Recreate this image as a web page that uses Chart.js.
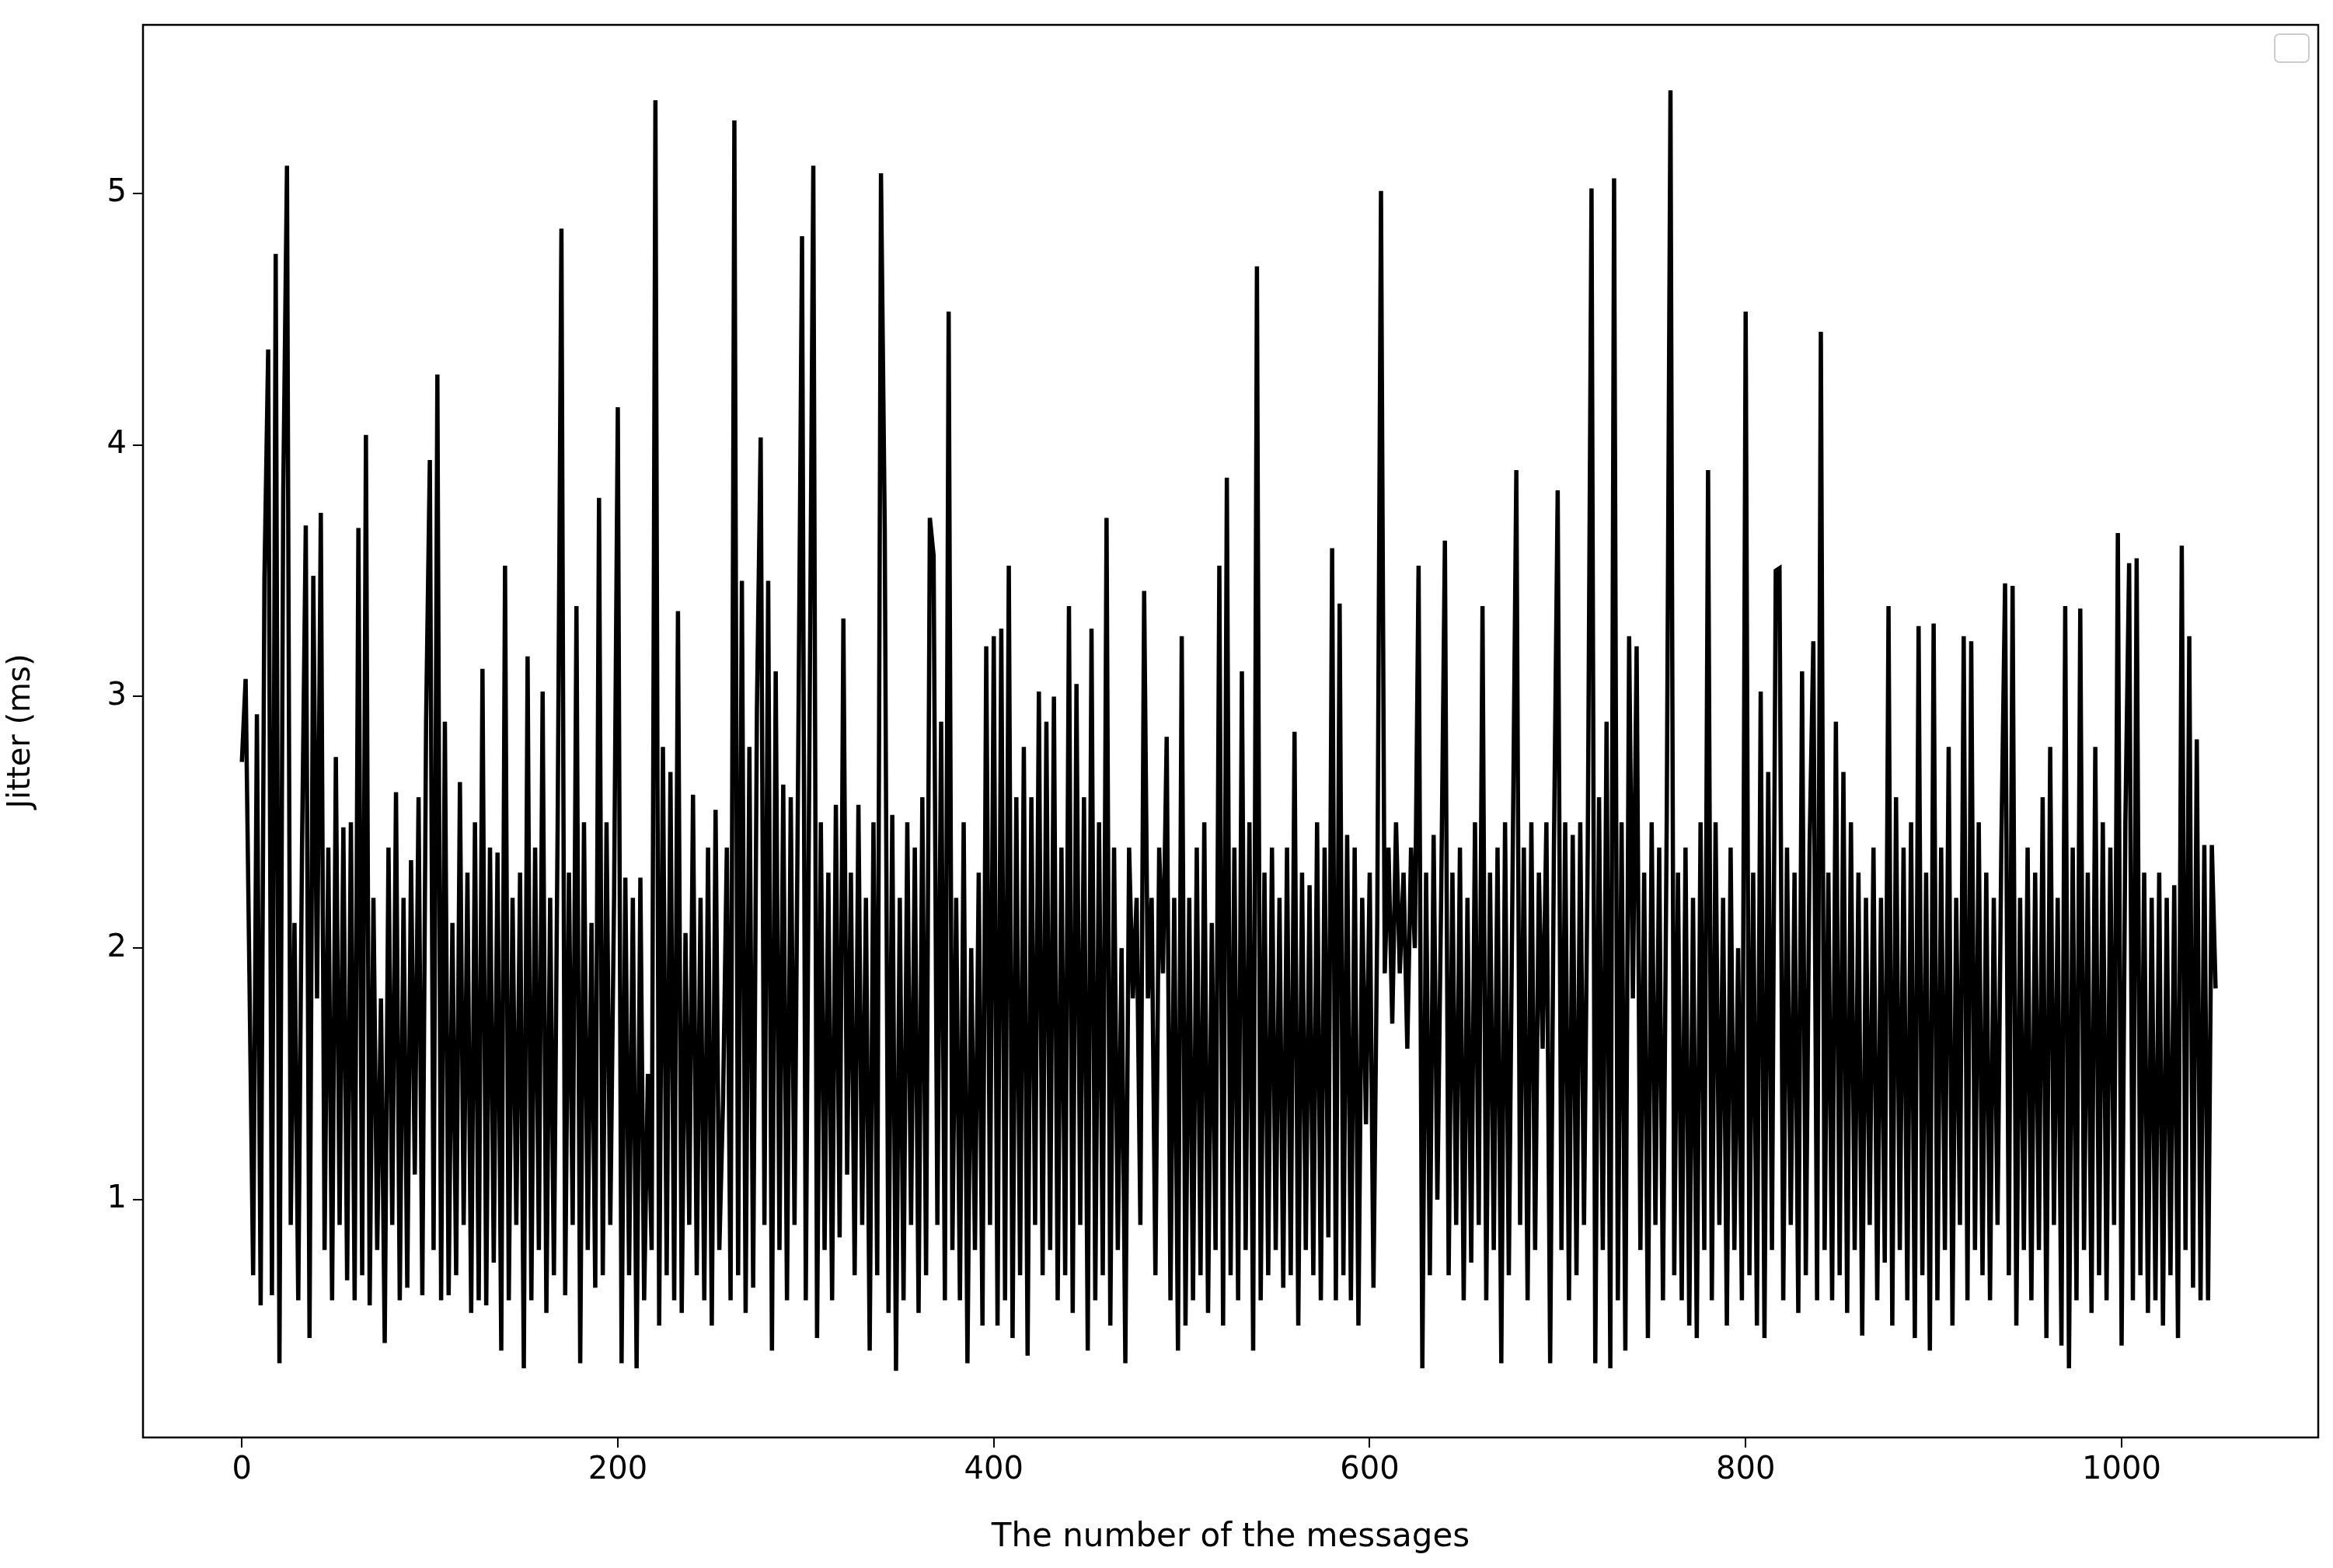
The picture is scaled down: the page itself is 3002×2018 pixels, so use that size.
<!DOCTYPE html>
<html><head><meta charset="utf-8">
<script src="https://cdn.jsdelivr.net/npm/chart.js@4"></script>
<style>html,body{margin:0;padding:0;background:#fff}canvas{display:block}</style>
</head><body>
<div style="width:3002px;height:2018px"><canvas id="c" width="3002" height="2018"></canvas></div>
<script>
const xStart = 0, xStep = 2;
const jitter = [
2.74,3.07,1.9,0.7,2.93,0.58,3.47,4.38,0.62,4.76,0.35,3.8,5.11,0.9,2.1,0.6,2.4,3.68,0.45,3.48,1.8,3.73,0.8,2.4,0.6,
2.76,0.9,2.48,0.68,2.5,0.6,3.67,0.7,4.04,0.58,2.2,0.8,1.8,0.43,2.4,0.9,2.62,0.6,2.2,0.65,2.35,1.1,2.6,0.62,2.9,
3.94,0.8,4.28,0.6,2.9,0.62,2.1,0.7,2.66,0.9,2.3,0.55,2.5,0.6,3.11,0.58,2.4,0.75,2.38,0.4,3.52,0.6,2.2,0.9,2.3,
0.33,3.16,0.6,2.4,0.8,3.02,0.55,2.2,0.7,2.5,4.86,0.62,2.3,0.9,3.36,0.35,2.5,0.8,2.1,0.65,3.79,0.7,2.5,0.9,2.2,
4.15,0.35,2.28,0.7,2.2,0.33,2.28,0.6,1.5,0.8,5.37,0.5,2.8,0.7,2.7,0.6,3.34,0.55,2.06,0.9,2.61,0.7,2.2,0.6,2.4,
0.5,2.55,0.8,1.4,2.4,0.6,5.29,0.7,3.46,0.55,2.8,0.65,2.95,4.03,0.9,3.46,0.4,3.1,0.8,2.65,0.6,2.6,0.9,2.8,4.83,
0.6,2.9,5.11,0.45,2.5,0.8,2.3,0.6,2.57,0.85,3.31,1.1,2.3,0.7,2.57,0.9,2.2,0.4,2.5,0.7,5.08,3.67,0.55,2.53,0.32,
2.2,0.6,2.5,0.9,2.4,0.55,2.6,0.7,3.71,3.56,0.9,2.9,0.6,4.53,0.8,2.2,0.6,2.5,0.35,2.0,0.8,2.3,0.5,3.2,0.9,
3.24,0.5,3.27,0.6,3.52,0.45,2.6,0.7,2.8,0.38,2.6,0.9,3.02,0.7,2.9,0.8,3.0,0.6,2.4,0.7,3.36,0.55,3.05,0.9,2.6,
0.4,3.27,0.6,2.5,0.7,3.71,0.5,2.4,0.8,2.0,0.35,2.4,1.8,2.2,0.9,3.42,1.8,2.2,0.7,2.4,1.9,2.84,0.6,2.2,0.4,
3.24,0.5,2.2,0.6,2.4,0.7,2.5,0.55,2.1,0.8,3.52,0.5,3.87,0.7,2.4,0.6,3.1,0.8,2.5,0.4,4.71,0.6,2.3,0.7,2.4,
0.8,2.2,0.65,2.4,0.7,2.86,0.5,2.3,0.8,2.25,0.7,2.5,0.6,2.4,0.85,3.59,0.6,3.37,0.7,2.45,0.6,2.4,0.5,2.2,1.3,
2.3,0.65,2.1,5.01,1.9,2.4,1.7,2.5,1.9,2.3,1.6,2.4,2.0,3.52,0.33,2.3,0.7,2.45,1.0,2.2,3.62,0.7,2.3,0.9,2.4,
0.6,2.2,0.75,2.5,0.9,3.36,0.6,2.3,0.8,2.4,0.35,2.5,0.7,2.3,3.90,0.9,2.4,0.6,2.5,0.8,2.3,1.6,2.5,0.35,2.4,
3.82,0.8,2.5,0.6,2.45,0.7,2.5,0.9,2.4,5.02,0.35,2.6,0.8,2.9,0.33,5.06,0.6,2.5,0.4,3.24,1.8,3.2,0.8,2.3,0.45,
2.5,0.9,2.4,0.6,2.5,5.41,0.7,2.3,0.6,2.4,0.5,2.2,0.45,2.5,0.8,3.90,0.6,2.5,0.9,2.2,0.5,2.4,0.8,2.0,0.6,
4.53,0.7,2.3,0.5,3.02,0.45,2.7,0.8,3.5,3.51,0.6,2.4,0.9,2.3,0.55,3.1,0.7,2.4,3.22,0.6,4.45,0.8,2.3,0.6,2.9,
0.7,2.7,0.55,2.5,0.8,2.3,0.46,2.2,0.9,2.4,0.6,2.2,0.75,3.36,0.5,2.6,0.8,2.4,0.6,2.5,0.45,3.28,0.7,2.3,0.4,
3.29,0.6,2.4,0.8,2.8,0.5,2.2,0.9,3.24,0.6,3.22,0.8,2.5,0.7,2.3,0.6,2.2,0.9,2.4,3.45,0.7,3.44,0.5,2.2,0.8,
2.4,0.6,2.3,0.8,2.6,0.45,2.8,0.9,2.2,0.42,3.36,0.33,2.4,0.6,3.35,0.8,2.3,0.55,2.8,0.7,2.5,0.6,2.4,0.9,3.65,
0.42,2.5,3.53,0.6,3.55,0.7,2.3,0.55,2.2,0.6,2.3,0.5,2.2,0.7,2.25,0.45,3.6,0.8,3.24,0.65,2.83,0.6,2.41,0.6,2.41,
1.84
];
const xTicks = [0,200,400,600,800,1000];
const yTicks = [1,2,3,4,5];
const pts = jitter.map((v,i)=>({x:xStart+i*xStep,y:v}));
const F = 'DejaVu Sans';
const frame = {id:'frame',afterDraw(c){const a=c.chartArea,g=c.ctx;g.save();g.strokeStyle='#000';g.lineWidth=2.5;g.strokeRect(a.left,a.top,a.right-a.left,a.bottom-a.top);
 g.strokeStyle='#ccc';g.lineWidth=2;g.fillStyle='#fff';const w=44,h=36,x=a.right-w-12,y=a.top+12;g.beginPath();g.roundRect(x,y,w,h,6);g.fill();g.stroke();g.restore();}};
new Chart(document.getElementById('c'),{
 type:'line',
 data:{datasets:[{data:pts,borderColor:'#000',borderWidth:5.5,pointRadius:0,tension:0,fill:false}]},
 options:{responsive:false,animation:false,events:[],
  layout:{padding:{top:29,right:19,left:0,bottom:0}},
  plugins:{legend:{display:false},tooltip:{enabled:false}},
  scales:{
   x:{type:'linear',min:-52.6,max:1104.6,
     afterBuildTicks(s){s.ticks=xTicks.map(v=>({value:v}));},
     afterFit(s){s.height=168;},
     grid:{drawOnChartArea:false,tickLength:13,color:'#000',lineWidth:2},border:{display:false},
     ticks:{color:'#000',font:{family:F,size:40},padding:6,maxRotation:0,callback:v=>String(v)},
     title:{display:true,text:'The number of the messages',color:'#000',font:{family:F,size:42},padding:{top:-14,bottom:14}}},
   y:{min:0.055,max:5.67,
     afterBuildTicks(s){s.ticks=yTicks.map(v=>({value:v}));},
     afterFit(s){s.width=184;},
     grid:{drawOnChartArea:false,tickLength:13,color:'#000',lineWidth:2},border:{display:false},
     ticks:{color:'#000',font:{family:F,size:40},padding:8},
     title:{display:true,text:'Jitter (ms)',color:'#000',font:{family:F,size:40},padding:{bottom:4}}}
  }},
 plugins:[frame]
});
</script></body></html>
